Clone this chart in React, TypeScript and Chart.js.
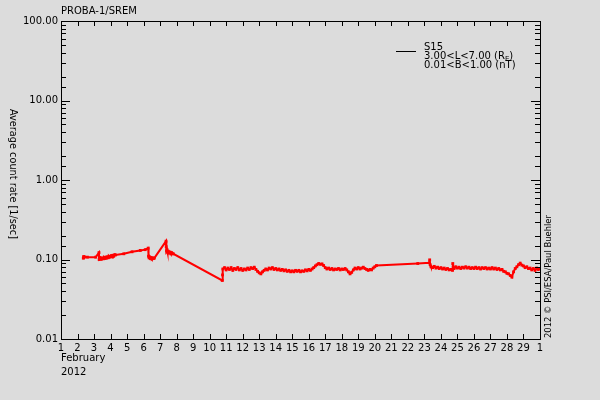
import React, { useEffect, useRef } from 'react';
import { Chart, registerables } from 'chart.js';

Chart.register(...registerables);

const days = [
  2.35, 2.37, 2.39, 2.42, 2.6, 3.1,
  3.3, 3.31, 3.33, 3.36, 3.4, 3.45, 3.5, 3.55, 3.6, 3.65, 3.7, 3.75, 3.8, 3.85, 3.9, 3.95,
  4.0, 4.05, 4.1, 4.15, 4.2, 4.25, 4.3,
  4.8, 5.3, 5.8, 6.1,
  6.28, 6.3, 6.33, 6.36, 6.4, 6.45, 6.5, 6.55, 6.6, 6.65,
  7.36, 7.37, 7.39, 7.42, 7.45, 7.5, 7.55, 7.6, 7.65, 7.7, 7.75, 7.8,
  10.76, 10.78,
  10.8, 10.9, 11.0, 11.1, 11.2, 11.3, 11.4, 11.5, 11.6, 11.7, 11.8, 11.9,
  12.0, 12.1, 12.2, 12.3, 12.4, 12.5, 12.6, 12.7, 12.8, 12.9,
  13.0, 13.1, 13.2, 13.3, 13.4, 13.5, 13.6, 13.7, 13.8, 13.9,
  14.0, 14.1, 14.2, 14.3, 14.4, 14.5, 14.6, 14.7, 14.8, 14.9,
  15.0, 15.1, 15.2, 15.3, 15.4, 15.5, 15.6, 15.7, 15.8, 15.9,
  16.0, 16.1, 16.2, 16.3, 16.4, 16.5, 16.6, 16.7, 16.8, 16.9,
  17.0, 17.1, 17.2, 17.3, 17.4, 17.5, 17.6, 17.7, 17.8, 17.9,
  18.0, 18.1, 18.2, 18.3, 18.4, 18.5, 18.6, 18.7, 18.8, 18.9,
  19.0, 19.1, 19.2, 19.3, 19.4, 19.5, 19.6, 19.7, 19.8, 19.9,
  20.0, 20.1,
  22.6,
  23.3, 23.32, 23.35, 23.4, 23.5, 23.6, 23.7, 23.8, 23.9,
  24.0, 24.1, 24.2, 24.3, 24.4, 24.5, 24.6, 24.7, 24.72, 24.75, 24.8, 24.9,
  25.0, 25.1, 25.2, 25.3, 25.4, 25.5, 25.6, 25.7, 25.8, 25.9,
  26.0, 26.1, 26.2, 26.3, 26.4, 26.5, 26.6, 26.7, 26.8, 26.9,
  27.0, 27.1, 27.2, 27.3, 27.4, 27.5, 27.6, 27.7, 27.8, 27.9,
  28.0, 28.1, 28.2, 28.3, 28.4, 28.5, 28.6, 28.7, 28.8, 28.9,
  29.0, 29.1, 29.2, 29.3, 29.4, 29.5, 29.6, 29.7, 29.8, 29.9,
  30.0,
];

const rates = [
  0.104, 0.109, 0.106, 0.108, 0.107, 0.107,
  0.122, 0.1, 0.106, 0.102, 0.105, 0.101, 0.104, 0.102, 0.106, 0.103, 0.107, 0.104, 0.108, 0.105, 0.11, 0.107,
  0.109, 0.112, 0.108, 0.113, 0.111, 0.115, 0.114,
  0.118, 0.125, 0.13, 0.133,
  0.139, 0.11, 0.105, 0.108, 0.103, 0.106, 0.102, 0.105, 0.103, 0.104,
  0.17, 0.145, 0.128, 0.133, 0.124, 0.127, 0.121, 0.124, 0.119, 0.122, 0.118, 0.118,
  0.0545, 0.064,
  0.076, 0.079, 0.074, 0.078, 0.075, 0.079, 0.073, 0.077, 0.075, 0.079, 0.074, 0.077,
  0.073, 0.076, 0.074, 0.078, 0.075, 0.079, 0.077, 0.08, 0.075, 0.071,
  0.068, 0.066, 0.07, 0.073, 0.076, 0.074, 0.078, 0.076, 0.079, 0.075,
  0.077, 0.074, 0.076, 0.073, 0.075, 0.072, 0.074, 0.071, 0.073, 0.07,
  0.072, 0.07, 0.073, 0.071, 0.073, 0.07, 0.072, 0.071, 0.074, 0.072,
  0.075, 0.073, 0.076, 0.079, 0.083, 0.086, 0.089, 0.087, 0.088, 0.084,
  0.079, 0.076, 0.078, 0.075, 0.077, 0.074, 0.076, 0.075, 0.077, 0.074,
  0.076, 0.075, 0.077, 0.074, 0.07, 0.066, 0.069, 0.074, 0.078, 0.076,
  0.079, 0.076, 0.078, 0.08, 0.077, 0.075, 0.073, 0.075, 0.074, 0.078,
  0.081, 0.084,
  0.089,
  0.091, 0.099, 0.086, 0.081, 0.079, 0.082, 0.078, 0.08, 0.077,
  0.079, 0.076, 0.078, 0.075, 0.077, 0.074, 0.075, 0.073, 0.089, 0.08, 0.077, 0.081,
  0.078, 0.08, 0.077, 0.08, 0.078, 0.081, 0.078, 0.08, 0.077, 0.079,
  0.077, 0.08, 0.077, 0.079, 0.076, 0.079, 0.077, 0.079, 0.076, 0.078,
  0.076, 0.079, 0.076, 0.078, 0.075, 0.077, 0.074, 0.075, 0.071, 0.07,
  0.067, 0.066, 0.063, 0.06, 0.07, 0.077, 0.081, 0.086, 0.09, 0.085,
  0.083, 0.079, 0.081, 0.077, 0.078, 0.074, 0.077, 0.073, 0.078, 0.075,
  0.077,
];

const xTickValues = [
  1, 2, 3, 4, 5, 6, 7, 8, 9, 10, 11, 12, 13, 14, 15, 16, 17, 18, 19, 20,
  21, 22, 23, 24, 25, 26, 27, 28, 29, 30,
];
const xTickLabels = [
  '1', '2', '3', '4', '5', '6', '7', '8', '9', '10', '11', '12', '13', '14', '15',
  '16', '17', '18', '19', '20', '21', '22', '23', '24', '25', '26', '27', '28', '29', '1',
];
const yTickValues = [0.01, 0.1, 1, 10, 100];
const yTickLabels = ['0.01', '0.10', '1.00', '10.00', '100.00'];

const chartTitle = 'PROBA-1/SREM';
const yTitle = 'Average count rate [1/sec]';
const xSubTitle1 = 'February';
const xSubTitle2 = '2012';
const creditText = '2012 \u00a9 PSI/ESA/Paul Buehler';
const legendLine1 = 'S15';
const legendLine2a = '3.00<L<7.00 (R';
const legendLine2sub = 'E';
const legendLine2b = ')';
const legendLine3 = '0.01<B<1.00 (nT)';

const FONT = '"DejaVu Sans", sans-serif';
const BG = '#dcdcdc';

const decorPlugin = {
  id: 'decor',
  beforeDraw(chart: any) {
    const ctx = chart.ctx;
    ctx.save();
    ctx.fillStyle = BG;
    ctx.fillRect(0, 0, chart.width, chart.height);
    ctx.restore();
  },
  afterDraw(chart: any) {
    const ctx = chart.ctx;
    const { left, right, top, bottom } = chart.chartArea;
    const xs = chart.scales.x;
    const ys = chart.scales.y;
    ctx.save();
    ctx.strokeStyle = '#000';
    ctx.lineWidth = 1;
    ctx.strokeRect(Math.round(left) + 0.5, Math.round(top) + 0.5, Math.round(right - left), Math.round(bottom - top));
    ctx.beginPath();
    xs.ticks.forEach((t: any) => {
      const px = Math.round(xs.getPixelForValue(t.value)) + 0.5;
      ctx.moveTo(px, bottom);
      ctx.lineTo(px, bottom - 5);
      ctx.moveTo(px, top);
      ctx.lineTo(px, top + 5);
    });
    ys.ticks.forEach((t: any) => {
      const v = t.value;
      const lg = Math.log10(v);
      const major = Math.abs(lg - Math.round(lg)) < 1e-6;
      const len = major ? 9 : 5;
      const py = Math.round(ys.getPixelForValue(v)) + 0.5;
      ctx.moveTo(left, py);
      ctx.lineTo(left + len, py);
      ctx.moveTo(right, py);
      ctx.lineTo(right - len, py);
    });
    ctx.stroke();

    ctx.fillStyle = '#000';
    ctx.textAlign = 'left';
    ctx.textBaseline = 'alphabetic';
    ctx.font = `10px ${FONT}`;
    ctx.fillText(chartTitle, 61, 14, 79);

    ctx.fillText(xSubTitle1, 61, 361);
    ctx.fillText(xSubTitle2, 61, 375);

    ctx.beginPath();
    ctx.moveTo(396, 51.5);
    ctx.lineTo(416, 51.5);
    ctx.stroke();
    ctx.fillText(legendLine1, 424, 50);
    ctx.fillText(legendLine2a, 424, 59);
    const w2 = ctx.measureText(legendLine2a).width;
    ctx.font = `7px ${FONT}`;
    ctx.fillText(legendLine2sub, 424 + w2, 61);
    const ws = ctx.measureText(legendLine2sub).width;
    ctx.font = `10px ${FONT}`;
    ctx.fillText(legendLine2b, 424 + w2 + ws, 59);
    ctx.fillText(legendLine3, 424, 68, 92);

    ctx.save();
    ctx.translate(10, 109);
    ctx.rotate(Math.PI / 2);
    ctx.fillText(yTitle, 0, 0, 130);
    ctx.restore();

    ctx.save();
    ctx.translate(551, 338);
    ctx.rotate(-Math.PI / 2);
    ctx.font = `9px ${FONT}`;
    ctx.fillText(creditText, 0, 0, 123);
    ctx.restore();

    ctx.restore();
  },
};

export default function App() {
  const ref = useRef<HTMLCanvasElement>(null);
  useEffect(() => {
    if (!ref.current) return;
    const chart = new Chart(ref.current, {
      type: 'line',
      data: {
        datasets: [
          {
            data: days.map((d, i) => ({ x: d, y: rates[i] })),
            borderColor: '#ff0000',
            backgroundColor: '#ff0000',
            borderWidth: 2,
            pointRadius: 2,
            pointStyle: 'rect',
            pointBorderWidth: 0,
            tension: 0,
          },
        ],
      },
      options: {
        responsive: false,
        animation: false,
        devicePixelRatio: 1,
        layout: { padding: { top: 21, right: 60, left: 0, bottom: 0 } },
        plugins: { legend: { display: false }, tooltip: { enabled: false } },
        scales: {
          x: {
            type: 'linear',
            min: 1,
            max: 30,
            afterFit: (s: any) => { s.height = 61; },
            afterBuildTicks: (s: any) => { s.ticks = xTickValues.map((v) => ({ value: v })); },
            grid: { display: false, drawTicks: false },
            border: { display: false },
            ticks: {
              autoSkip: false,
              maxRotation: 0,
              padding: 3,
              color: '#000',
              font: { family: FONT, size: 10 },
              callback: (v: any) => {
                const i = xTickValues.indexOf(Number(v));
                return i >= 0 ? xTickLabels[i] : '';
              },
            },
          },
          y: {
            type: 'logarithmic',
            min: 0.01,
            max: 100,
            afterFit: (s: any) => { s.width = 61; },
            grid: { display: false, drawTicks: false },
            border: { display: false },
            ticks: {
              autoSkip: false,
              padding: 3,
              color: '#000',
              font: { family: FONT, size: 10 },
              callback: (v: any) => {
                const n = Number(v);
                const i = yTickValues.findIndex((t) => Math.abs(t - n) / t < 1e-6);
                return i >= 0 ? yTickLabels[i] : '';
              },
            },
          },
        },
      },
      plugins: [decorPlugin],
    });
    return () => chart.destroy();
  }, []);
  return (
    <div style={{ position: 'absolute', left: 0, top: 0, width: 600, height: 400, background: BG }}>
      <canvas ref={ref} width={600} height={400} style={{ display: 'block' }} />
    </div>
  );
}
